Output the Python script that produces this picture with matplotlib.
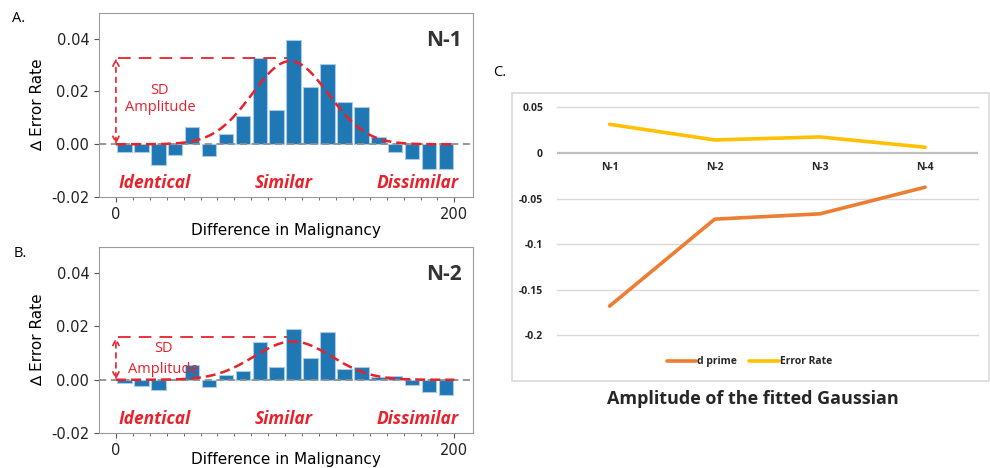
import numpy as np
import matplotlib
matplotlib.use("Agg")
import matplotlib.pyplot as plt
from matplotlib.patches import Rectangle

# ---------------- data ----------------
bin_centers = [5, 15, 25, 35, 45, 55, 65, 75, 85, 95,
               105, 115, 125, 135, 145, 155, 165, 175, 185, 195]
n1_values = [-0.0030, -0.0030, -0.0079, -0.0039, 0.0067, -0.0045, 0.0039, 0.0106, 0.0326, 0.0131,
             0.0396, 0.0216, 0.0304, 0.0160, 0.0140, 0.0029, -0.0030, -0.0055, -0.0092, -0.0094]
n2_values = [-0.0013, -0.0023, -0.0039, 0.0004, 0.0055, -0.0028, 0.0019, 0.0033, 0.0140, 0.0046,
             0.0191, 0.0082, 0.0178, 0.0039, 0.0048, 0.0010, 0.0015, -0.0018, -0.0046, -0.0057]
# fitted gaussian parameters (amplitude, mean, sigma) and SD-amplitude marker level
n1_fit = (0.0315, 103.0, 22.5)
n2_fit = (0.0143, 104.5, 23.0)
n1_sd_level = 0.0326
n2_sd_level = 0.0158
region_labels = ["Identical", "Similar", "Dissimilar"]
region_x = [23, 99, 178.5]

lags = ["N-1", "N-2", "N-3", "N-4"]
d_prime = [-0.168, -0.0726, -0.0668, -0.0376]
error_rate = [0.0314, 0.0142, 0.0175, 0.0062]
c_yticks = [0.05, 0, -0.05, -0.1, -0.15, -0.2]
c_yticklabels = ["0.05", "0", "-0.05", "-0.1", "-0.15", "-0.2"]

RED = "#E8212B"
BLUE = "#1F77B4"

fig = plt.figure(figsize=(9.9, 4.68), dpi=100)

def hist_panel(rect, values, fit, sd_level, label, sd_pos, amp_pos, xlabel_pad):
    ax = fig.add_axes(rect)
    ax.bar(bin_centers, values, width=8.6, color=BLUE, edgecolor="#a9cbe6", linewidth=0.8, zorder=2)
    ax.axhline(0, color="#909090", linestyle=(0, (4, 2.5)), linewidth=1.3, zorder=3)
    xs = np.linspace(0, 200, 400)
    a, mu, s = fit
    ax.plot(xs, a * np.exp(-(xs - mu) ** 2 / (2 * s ** 2)), color=RED, linestyle=(0, (4, 2)),
            linewidth=1.8, zorder=4)
    ax.plot([1.5, 101], [sd_level, sd_level], color=RED, linestyle=(0, (7, 4.5)), linewidth=1.3, zorder=4)
    ax.annotate("", xy=(0, sd_level), xytext=(0, 0),
                arrowprops=dict(arrowstyle="<->", color=RED, linestyle=(0, (3, 3)), linewidth=1.2,
                                shrinkA=0, shrinkB=0, mutation_scale=11), zorder=5)
    ax.text(sd_pos[0], sd_pos[1], "SD", color=RED, ha="center", va="center", fontsize=10.5,
            family="Open Sans", zorder=6)
    ax.text(amp_pos[0], amp_pos[1], "Amplitude", color=RED, ha="center", va="center", fontsize=10.5,
            family="Open Sans", zorder=6)
    for t, x in zip(region_labels, region_x):
        ax.text(x, -0.0145, t, color=RED, ha="center", va="center", fontsize=12.5,
                fontweight="bold", style="italic", family="Open Sans")
    ax.text(0.97, 0.85, label, transform=ax.transAxes, ha="right", va="center", fontsize=15,
            fontweight="bold", color="#333333", family="Open Sans")
    ax.set_xlim(-10, 211)
    ax.set_ylim(-0.02, 0.0497)
    ax.set_yticks([-0.02, 0.0, 0.02, 0.04])
    ax.set_yticklabels(["-0.02", "0.00", "0.02", "0.04"])
    ax.set_xticks([0, 200])
    ax.set_xticks(np.arange(0, 201, 10), minor=True)
    ax.tick_params(labelsize=10.5, colors="#222222")
    ax.tick_params(which="minor", length=2.5, color="#555555")
    ax.tick_params(which="major", length=3.5, color="#555555")
    for sp in ax.spines.values():
        sp.set_color("#9a9a9a")
    ax.set_ylabel("\u2206 Error Rate", fontsize=11, labelpad=4)
    ax.set_xlabel("Difference in Malignancy", fontsize=11, labelpad=xlabel_pad)
    return ax

hist_panel([0.1, 0.579, 0.3778, 0.393], n1_values, n1_fit, n1_sd_level, "N-1",
           (26, 0.0205), (26, 0.0138), 1)
hist_panel([0.1, 0.0741, 0.3778, 0.3987], n2_values, n2_fit, n2_sd_level, "N-2",
           (28, 0.0115), (28, 0.0037), -4)

fig.text(0.012, 0.953, "A.", fontsize=10.5, family="Open Sans")
fig.text(0.014, 0.45, "B.", fontsize=10.5, family="Open Sans")
fig.text(0.498, 0.838, "C.", fontsize=10.5, family="Open Sans")

# ---------------- panel C ----------------
fig.patches.append(Rectangle((0.517, 0.1865), 0.482, 0.6147, transform=fig.transFigure,
                             fill=False, edgecolor="#d9d9d9", linewidth=1.2))
axc = fig.add_axes([0.5626, 0.2835, 0.425, 0.4872])
x = np.arange(len(lags))
for yv in c_yticks:
    if yv != 0:
        axc.axhline(yv, color="#d9d9d9", linewidth=1.0, zorder=1, clip_on=False)
axc.axhline(0, color="#bfbfbf", linewidth=1.6, zorder=1)
l1, = axc.plot(x, d_prime, color="#ED7D31", linewidth=2.6, label="d prime", zorder=3,
               solid_capstyle="round")
l2, = axc.plot(x, error_rate, color="#FFC000", linewidth=2.6, label="Error Rate", zorder=3,
               solid_capstyle="round")
axc.set_xlim(-0.5, 3.5)
axc.set_ylim(-0.2, 0.05)
axc.set_yticks(c_yticks)
axc.set_yticklabels(c_yticklabels)
axc.set_xticks([])
for sp in axc.spines.values():
    sp.set_visible(False)
axc.tick_params(axis="y", length=0, pad=10, labelsize=7.5, colors="#262626")
for lab in axc.get_yticklabels():
    lab.set_fontweight("bold")
    lab.set_family("Open Sans")
for xi, name in zip(x, lags):
    axc.text(xi, -0.0155, name, ha="center", va="center", fontsize=7.5, fontweight="bold",
             color="#262626", family="Open Sans")
leg = fig.legend(handles=[l1, l2], loc="center", bbox_to_anchor=(0.757, 0.227), ncol=2,
                 frameon=False, handlelength=2.8, columnspacing=1.2, handletextpad=0.1,
                 prop={"family": "Open Sans", "weight": "bold", "size": 7.5})
for t in leg.get_texts():
    t.set_color("#262626")
fig.text(0.76, 0.148, "Amplitude of the fitted Gaussian", ha="center", va="center",
         fontsize=13, fontweight="bold", color="#262626", family="Open Sans")

fig.savefig("out.png", dpi=100)
